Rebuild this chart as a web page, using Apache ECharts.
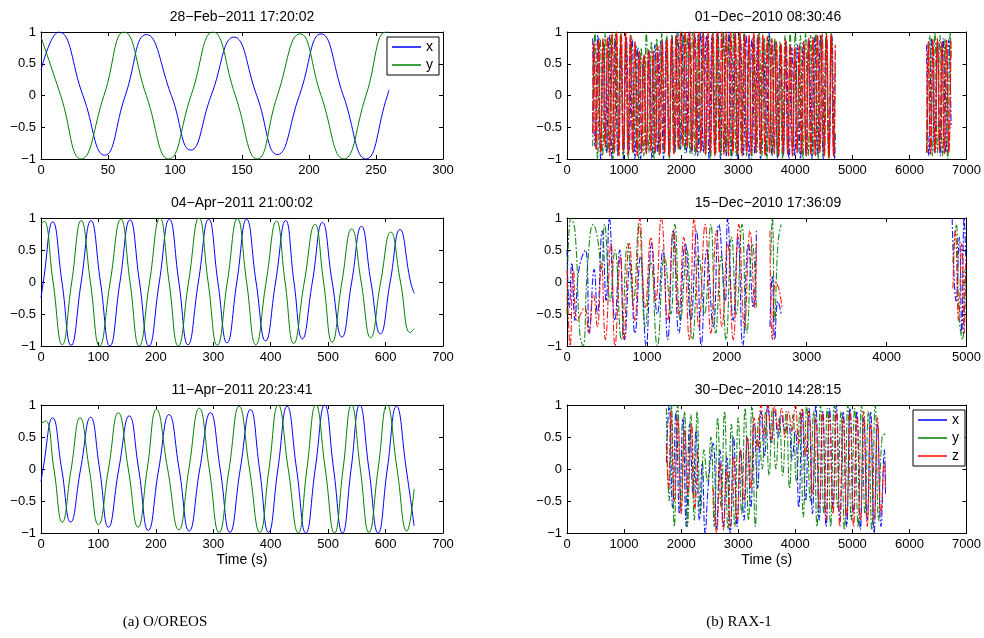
<!DOCTYPE html>
<html><head><meta charset="utf-8">
<script src="https://cdn.jsdelivr.net/npm/echarts@6/dist/echarts.min.js"></script>
<style>html,body{margin:0;padding:0;background:#fff}#c{width:984px;height:638px}</style>
</head><body><div id="c"></div>
<script>
// ---------------- data ----------------
const panelTitles = ['28\u2212Feb\u22122011 17:20:02','01\u2212Dec\u22122010 08:30:46','04\u2212Apr\u22122011 21:00:02','15\u2212Dec\u22122010 17:36:09','11\u2212Apr\u22122011 20:23:41','30\u2212Dec\u22122010 14:28:15'];
const captions = ['(a) O/OREOS','(b) RAX-1'];
const seriesNames = ['x','y','z'];
const yTicks = [-1, -0.5, 0, 0.5, 1];
const xAxisMax = [300, 7000, 700, 5000, 700, 7000];
const xAxisStep = [50, 1000, 100, 1000, 100, 1000];
const xAxisName = 'Time (s)';

// O/OREOS 28-Feb-2011 (time s, value)
const feb28X = [[0,0.40],[13.2,1.0],[31.3,0],[47.5,-0.94],[62.9,0],[78.6,0.96],[97.3,0],[111.7,-0.86],[127,0],[144,0.92],[161,0],[176.4,-0.93],[192.8,0],[209,0.97],[225.6,0],[242.5,-1.0],[258.5,0],[259.7,0.09]];
const feb28Y = [[0,0.92],[14.7,0],[30,-1],[47,0],[62,1],[78.6,0],[95.3,-1],[112,0],[128.4,1],[145,0],[161.4,-1],[176.4,0],[193.3,0.97],[209,0],[226,-1],[242.5,0],[257.5,1.0],[259.7,1.0]];
// O/OREOS 04-Apr-2011
const apr04X = [[0,-0.25],[4,0],[20.5,0.94],[36.5,0],[52.5,-0.99],[70,0],[87,0.96],[103.5,0],[120,-1],[137.5,0],[155,0.97],[171.5,0],[188,-1],[206,0],[223.5,0.98],[240,0],[256,-0.98],[274,0],[292,0.98],[308,0],[324,-0.95],[341,0],[358,0.98],[374.5,0],[391,-0.92],[408.5,0],[426,0.96],[440.5,0],[455,-0.89],[472.5,0],[490,0.93],[507,0],[524,-0.86],[541,0],[558,0.87],[574.5,0],[591,-0.81],[608,0],[625,0.82],[643.5,0],[650,-0.18]];
const apr04Y = [[0,0.9],[5,0.95],[21,0],[37,-0.98],[53.5,0],[70,0.96],[86,0],[102,-1],[120.5,0],[139,0.98],[155,0],[171,-1],[189,0],[207,1],[223,0],[239,-1],[257,0],[275,1],[291,0],[307,-0.99],[324.5,0],[342,0.99],[358,0],[374,-0.98],[392,0],[410,0.95],[425,0],[440,-0.96],[458.5,0],[477,0.9],[492,0],[507,-0.94],[524,0],[541,0.83],[557.5,0],[574,-0.87],[591.5,0],[609,0.78],[626,0],[643,-0.79],[650,-0.73]];
// O/OREOS 11-Apr-2011
const apr11X = [[0,-0.2],[3.5,0],[20.3,0.80],[36,0],[51.6,-0.83],[69,0],[86.4,0.81],[102,0],[117.4,-0.91],[135.5,0],[153.7,0.83],[170,0],[186.8,-0.96],[205,0],[223,0.85],[240.5,0],[258,-0.97],[276.5,0],[295,0.88],[312,0],[328.9,-0.99],[347,0],[364.8,0.93],[380.5,0],[396.2,-0.99],[412.5,0],[428.6,0.98],[445,0],[461.2,-1],[477.5,0],[494,1.0],[509.5,0],[525,-1],[540,0],[555,1.0],[571,0],[587,-1],[603,0],[619,0.98],[636,0],[649.7,-0.89]];
const apr11Y = [[0,0.71],[8,0.75],[22.5,0],[37,-0.83],[52.5,0],[68,0.80],[84,0],[100,-0.87],[117.5,0],[134.6,0.88],[152,0],[169,-0.91],[185,0],[201,0.93],[220.5,0],[240,-0.95],[257.5,0],[275.5,0.95],[293,0],[310,-0.99],[327.5,0],[345,0.98],[363,0],[381,-0.99],[397,0],[413,1.0],[430.5,0],[448,-1],[463,0],[478.5,1.0],[495,0],[511,-1],[526,0],[540.6,1.0],[556,0],[571,-0.99],[587,0],[602.7,1.0],[620,0],[637,-0.97],[649.7,-0.31]];

// RAX-1 01-Dec-2010
const dec01X = [[450,0.9],[490,-0.8],[540,0.95],[590,-1],[640,0.85],[690,-0.9],[740,0.95],[790,-1],[840,0.9],[890,-0.95],[940,0.8],[990,-1],[1040,0.92],[1090,-0.85],[1140,0.9],[1190,-1],[1240,0.75],[1290,-1],[1340,0.6],[1390,-0.9],[1440,0.7],[1490,-1],[1540,0.8],[1590,-0.9],[1640,0.85],[1690,-1],[1740,0.9],[1790,-0.95],[1840,0.95],[1890,-0.9],[1940,1],[1990,-0.85],[2040,0.95],[2090,-0.9],[2140,1],[2190,-0.92],[2240,0.95],[2290,-0.95],[2340,1],[2390,-0.9],[2440,0.95],[2490,-1],[2540,0.95],[2590,-0.92],[2640,1],[2690,-1],[2740,0.95],[2790,-0.95],[2840,1],[2890,-0.95],[2940,0.95],[2990,-1],[3040,0.92],[3090,-0.95],[3140,0.95],[3190,-1],[3240,0.9],[3290,-0.92],[3340,0.95],[3390,-1],[3440,0.9],[3490,-0.95],[3540,1],[3590,-0.95],[3640,0.85],[3690,-1],[3740,0.8],[3790,-0.95],[3840,0.85],[3890,-1],[3940,0.75],[3990,-0.95],[4040,0.8],[4090,-1],[4140,0.85],[4190,-0.95],[4240,0.9],[4290,-1],[4340,0.92],[4390,-0.95],[4440,0.95],[4490,-1],[4540,0.9],[4590,-0.95],[4640,0.95],[4690,-1],[4700,-0.6],[5500,null],[6300,0.8],[6340,-0.95],[6390,0.9],[6440,-0.9],[6490,0.85],[6540,-0.95],[6590,0.9],[6640,-0.9],[6690,0.88],[6730,-0.5]];
const dec01Y = [[450,-0.8],[490,1],[535,-1],[580,0.9],[625,-0.95],[670,1],[715,-0.9],[760,0.95],[805,-1],[850,1],[895,-0.92],[940,1],[985,-0.95],[1030,0.9],[1075,-1],[1120,0.95],[1165,-0.9],[1210,0.8],[1255,-1],[1300,0.75],[1345,-0.95],[1390,1],[1435,-0.9],[1480,0.85],[1525,-1],[1570,0.9],[1615,-0.95],[1660,1],[1705,-0.92],[1750,0.95],[1795,-1],[1840,0.95],[1885,-0.9],[1930,1],[1975,-0.85],[2020,1],[2065,-0.9],[2110,0.95],[2155,-0.92],[2200,1],[2245,-0.95],[2290,0.95],[2335,-0.9],[2380,1],[2425,-0.95],[2470,0.95],[2515,-1],[2560,1],[2605,-0.92],[2650,0.95],[2695,-0.95],[2740,1],[2785,-0.9],[2830,0.95],[2875,-1],[2920,1],[2965,-0.95],[3010,0.95],[3055,-0.9],[3100,1],[3145,-0.95],[3190,0.92],[3235,-1],[3280,0.95],[3325,-0.9],[3370,1],[3415,-0.95],[3460,0.9],[3505,-1],[3550,0.95],[3595,-0.92],[3640,0.9],[3685,-0.95],[3730,0.85],[3775,-1],[3820,0.95],[3865,-0.9],[3910,1],[3955,-0.95],[4000,1],[4045,-0.9],[4090,0.95],[4135,-1],[4180,1],[4225,-0.95],[4270,0.95],[4315,-0.92],[4360,1],[4405,-1],[4450,0.95],[4495,-0.95],[4540,1],[4585,-1],[4630,1],[4675,-0.95],[4700,0.5],[5500,null],[6310,-0.9],[6355,0.95],[6400,-0.95],[6445,1],[6490,-0.9],[6535,0.95],[6580,-0.95],[6625,0.9],[6670,-1],[6715,1],[6730,0.6]];
const dec01Z = [[450,-0.6],[470,0.85],[510,-0.85],[550,0.88],[590,-0.9],[630,0.9],[670,-0.82],[710,0.92],[750,-0.95],[790,0.98],[830,-0.9],[870,1],[910,-0.95],[950,0.97],[990,-0.88],[1030,0.99],[1070,-0.93],[1110,0.95],[1150,-0.9],[1190,0.85],[1230,-0.95],[1270,0.7],[1310,-0.9],[1350,0.65],[1390,-0.92],[1430,0.72],[1470,-0.88],[1510,0.7],[1550,-0.9],[1590,0.78],[1630,-0.93],[1670,0.85],[1710,-0.9],[1750,0.88],[1790,-0.95],[1830,0.9],[1870,-0.92],[1910,0.95],[1950,-0.85],[1990,1],[2030,-0.8],[2070,1],[2110,-0.82],[2150,1],[2190,-0.85],[2230,1],[2270,-0.9],[2310,1],[2350,-0.88],[2390,0.98],[2430,-0.92],[2470,1],[2510,-0.9],[2550,0.97],[2590,-0.95],[2630,1],[2670,-0.9],[2710,1],[2750,-0.93],[2790,1],[2830,-0.95],[2870,1],[2910,-0.9],[2950,0.98],[2990,-0.92],[3030,1],[3070,-0.95],[3110,0.97],[3150,-0.9],[3190,0.95],[3230,-0.93],[3270,0.98],[3310,-0.9],[3350,0.95],[3390,-0.92],[3430,0.96],[3470,-0.95],[3510,0.93],[3550,-0.9],[3590,0.9],[3630,-0.92],[3670,0.85],[3710,-0.95],[3750,0.82],[3790,-0.9],[3830,0.88],[3870,-0.93],[3910,0.8],[3950,-0.95],[3990,0.76],[4030,-0.9],[4070,0.78],[4110,-0.92],[4150,0.85],[4190,-0.95],[4230,0.9],[4270,-0.93],[4310,0.92],[4350,-0.95],[4390,0.95],[4430,-0.9],[4470,0.97],[4510,-0.95],[4550,0.95],[4590,-0.98],[4630,0.97],[4670,-0.95],[4700,0.8],[5500,null],[6300,-0.9],[6330,0.85],[6370,-0.92],[6410,0.88],[6450,-0.9],[6490,0.9],[6530,-0.88],[6570,0.85],[6610,-0.92],[6650,0.87],[6690,-0.9],[6725,0.85]];

// RAX-1 15-Dec-2010
const dec15X = [[0,0.5],[30,-0.4],[60,0.3],[100,-0.6],[150,0.2],[230,0.5],[280,-0.8],[340,0.2],[380,-0.5],[440,0.8],[490,-0.3],[530,1],[600,-0.6],[660,0.5],[720,-0.9],[790,0.3],[850,-0.8],[920,0.4],[990,-1],[1060,0.6],[1130,-0.5],[1200,0.5],[1260,-0.9],[1330,0.8],[1400,-0.8],[1480,0.6],[1550,-0.6],[1620,0.8],[1680,-1],[1750,0.5],[1830,-0.7],[1900,0.9],[1980,-0.3],[2010,1],[2080,-0.6],[2140,0.7],[2200,-1],[2270,0.6],[2330,-0.4],[2370,0.8],[2450,null],[2540,-0.7],[2570,0.1],[2600,-0.9],[2640,-0.3],[2680,-0.5],[3500,null],[4820,1],[4870,-0.3],[4910,0.7],[4940,-0.8],[4970,1],[4990,0.4]];
const dec15Y = [[0,-0.5],[50,1],[100,0.8],[160,-0.8],[200,-1],[260,0.3],[330,0.9],[380,0.7],[430,0.2],[470,0.9],[540,-0.3],[600,0.5],[680,-0.9],[760,0.6],[830,-0.3],[900,0.9],[980,-0.7],[1050,0.3],[1130,-1],[1220,0.4],[1300,-0.5],[1350,0.9],[1420,-0.6],[1500,0.5],[1570,-0.9],[1650,0.4],[1720,-0.5],[1800,0.9],[1860,-0.8],[1930,0.4],[1990,-0.9],[2060,0.7],[2120,-0.5],[2190,0.9],[2250,-0.8],[2320,0.6],[2370,-0.4],[2450,null],[2550,0.4],[2570,1],[2600,-0.6],[2640,0.6],[2680,0.9],[3500,null],[4830,0.3],[4870,0.9],[4910,-0.6],[4950,-0.9],[4980,0.2]];
const dec15Z = [[0,0.2],[40,-1],[80,0.2],[130,-0.6],[220,-0.4],[270,-0.8],[330,-0.2],[380,-0.7],[430,0.3],[480,-0.9],[550,0.6],[600,-1],[670,0.4],[710,-0.9],[780,0.6],[850,-0.6],[910,1],[980,-0.4],[1050,0.7],[1110,-0.3],[1180,1],[1260,-0.6],[1330,0.8],[1400,-0.5],[1460,0.7],[1530,-0.9],[1590,1],[1650,-0.7],[1730,0.9],[1800,-0.8],[1870,0.8],[1940,-0.7],[2010,0.6],[2080,-0.9],[2150,0.9],[2220,-0.7],[2290,0.8],[2350,-0.4],[2370,0.6],[2450,null],[2540,0.8],[2570,-0.9],[2610,0],[2650,-0.1],[2690,-0.4],[3500,null],[4830,-0.1],[4860,0.8],[4900,-0.6],[4940,0.6],[4970,-0.8],[4990,0.4]];

// RAX-1 30-Dec-2010
const dec30X = [[1740,0.1],[1790,1],[1850,-0.6],[1910,0.9],[1970,-0.7],[2030,0.8],[2090,-0.9],[2150,0.7],[2210,-0.4],[2260,0.6],[2320,-0.8],[2370,0.1],[2420,-1],[2480,-0.2],[2560,0.4],[2620,-0.95],[2680,0.3],[2740,-0.9],[2800,0.2],[2860,-1],[2920,0.5],[2980,-0.9],[3040,0.3],[3100,-0.8],[3160,0.5],[3220,-0.6],[3280,0.7],[3340,-0.3],[3400,0.9],[3460,0.2],[3520,1],[3580,0.4],[3640,0.9],[3700,0.5],[3760,0.85],[3820,0.6],[3880,0.7],[3940,0.15],[4000,0.6],[4060,-0.6],[4120,0.9],[4180,-0.5],[4240,0.95],[4300,-0.7],[4360,1],[4420,-0.8],[4480,0.9],[4540,-0.9],[4600,0.95],[4660,-0.6],[4720,1],[4780,-0.8],[4840,0.9],[4900,-0.9],[4960,0.95],[5020,-0.7],[5080,0.9],[5140,-0.95],[5200,0.8],[5260,-0.8],[5320,0.9],[5380,-1],[5440,0.7],[5500,-0.9],[5560,0.3],[5580,-0.4]];
const dec30Y = [[1740,0.95],[1790,-0.5],[1830,1],[1880,-0.9],[1940,1],[2000,-0.6],[2060,0.9],[2110,-0.9],[2170,0.85],[2230,-0.8],[2280,0.9],[2340,-0.7],[2400,0.3],[2460,-0.2],[2520,0.5],[2580,-0.9],[2640,0.8],[2700,-0.6],[2760,0.9],[2820,-0.95],[2880,0.7],[2940,-0.9],[3000,0.8],[3060,-0.7],[3120,0.95],[3180,-0.8],[3240,1],[3300,-0.9],[3360,0.8],[3420,0],[3480,0.9],[3540,-0.1],[3600,0.95],[3660,0],[3720,0.8],[3780,-0.1],[3840,0.9],[3900,-0.3],[3960,0.85],[4020,-0.2],[4080,0.9],[4140,-0.75],[4200,1],[4260,-0.5],[4320,0.9],[4380,-0.9],[4440,1],[4500,-0.7],[4560,0.95],[4620,-0.9],[4680,1],[4740,-0.6],[4800,0.9],[4860,-0.95],[4920,1],[4980,-0.8],[5040,0.95],[5100,-0.9],[5160,1],[5220,-0.7],[5280,0.9],[5340,-0.95],[5400,1],[5460,-0.8],[5520,0.5],[5580,0.55]];
const dec30Z = [[1740,0.4],[1780,-0.3],[1820,0.9],[1880,-0.5],[1940,0.8],[2000,-0.7],[2060,0.6],[2120,-0.4],[2180,0.7],[2240,-0.6],[2290,0.3],[2400,null],[2560,-0.3],[2620,-1],[2680,0.1],[2740,-0.95],[2800,0],[2860,-0.9],[2920,0.2],[2980,-0.8],[3040,0.3],[3100,-0.5],[3160,0.5],[3220,-0.3],[3280,0.8],[3340,0.3],[3400,1],[3460,0.5],[3520,1],[3580,0.45],[3640,1],[3700,0.6],[3760,0.95],[3820,0.5],[3880,0.9],[3940,0.6],[4000,1],[4060,0.4],[4120,0.95],[4180,0.2],[4240,0.9],[4300,-0.4],[4360,0.8],[4420,-0.6],[4480,0.9],[4540,-0.8],[4600,0.85],[4660,-0.7],[4720,0.9],[4780,-0.9],[4840,0.8],[4900,-0.75],[4960,0.9],[5020,-0.9],[5080,0.8],[5140,-0.8],[5200,0.9],[5260,-0.9],[5320,0.7],[5380,-0.8],[5440,0.8],[5500,-0.7],[5560,0.1],[5580,-0.3]];

// ---------------- chart ----------------
const COLORS = {x:'#0000ff', y:'#008000', z:'#ff0000'};
const FONT = 'Liberation Sans, Arial, Helvetica, sans-serif';
const grids = [
  {left:41, top:32, width:402, height:127},
  {left:567, top:32, width:402, height:127},
  {left:41, top:218, width:402, height:128},
  {left:567, top:218, width:402, height:128},
  {left:41, top:405, width:402, height:128},
  {left:567, top:405, width:402, height:128}
];
const titleTops = [10,10,196,196,383,383];
const panelData = [
  [feb28X, feb28Y],
  [dec01X, dec01Y, dec01Z],
  [apr04X, apr04Y],
  [dec15X, dec15Y, dec15Z],
  [apr11X, apr11Y],
  [dec30X, dec30Y, dec30Z]
];
const minus = v => (v < 0 ? '\u2212' + Math.abs(v) : String(v));
const xAxes = [], yAxes = [], series = [], titles = [];
grids.forEach((g, i) => {
  const lineCol = {color:'#000', width:1};
  const tick = {show:true, inside:true, length:4, lineStyle:{color:'#000', width:1}};
  const base = {type:'value', gridIndex:i, min:0, max:xAxisMax[i], interval:xAxisStep[i],
    splitLine:{show:false}, axisLine:{show:true, onZero:false, lineStyle:lineCol}, axisTick:tick};
  xAxes.push(Object.assign({}, base, {position:'bottom',
    axisLabel:{color:'#000', fontSize:13, fontFamily:FONT, margin:5, formatter:minus},
    name: i >= 4 ? xAxisName : '', nameLocation:'middle', nameGap:20,
    nameTextStyle:{color:'#000', fontSize:14, fontFamily:FONT}}));
  xAxes.push(Object.assign({}, base, {position:'top', axisLabel:{show:false}}));
  const ybase = {type:'value', gridIndex:i, min:yTicks[0], max:yTicks[yTicks.length-1], interval:0.5,
    splitLine:{show:false}, axisLine:{show:true, onZero:false, lineStyle:lineCol}, axisTick:tick};
  yAxes.push(Object.assign({}, ybase, {position:'left',
    axisLabel:{color:'#000', fontSize:13, fontFamily:FONT, margin:5, formatter:minus}}));
  yAxes.push(Object.assign({}, ybase, {position:'right', axisLabel:{show:false}}));
  const isRax = (i % 2 === 1);
  panelData[i].forEach((d, k) => {
    const nm = seriesNames[k];
    let ls = {color:COLORS[nm], width:1};
    if (isRax) {
      if (i === 1 && nm === 'z') ls = {color:COLORS[nm], width:1.3, type:[10,1.5], opacity:0.95};
      else ls = {color:COLORS[nm], width:1.1, type:[7,2,2,2], opacity:0.9};
    }
    series.push({
      type:'line', name:nm, xAxisIndex:2*i, yAxisIndex:2*i, data:d,
      showSymbol:false, symbol:'none', smooth:0.5, connectNulls:false,
      color:COLORS[nm], silent:true, z: 2 + k, lineStyle: ls
    });
  });
  titles.push({text:panelTitles[i], left:g.left + g.width/2, top:titleTops[i], textAlign:'center', padding:0,
    textStyle:{color:'#000', fontSize:14, fontWeight:'normal', fontFamily:FONT}});
});
titles.push({text:captions[0], left:165, top:615, textAlign:'center', padding:0,
  textStyle:{color:'#000', fontSize:15, fontWeight:'normal', fontFamily:'Liberation Serif, Times New Roman, serif'}});
titles.push({text:captions[1], left:739, top:615, textAlign:'center', padding:0,
  textStyle:{color:'#000', fontSize:15, fontWeight:'normal', fontFamily:'Liberation Serif, Times New Roman, serif'}});

const legendBase = {orient:'vertical', icon:'rect', itemWidth:29, itemHeight:1.5, itemGap:4,
  padding:[3,6,3,5], borderColor:'#000', borderWidth:1, backgroundColor:'#fff', selectedMode:false,
  textStyle:{color:'#000', fontSize:14, fontFamily:FONT, lineHeight:14}};
const chart = echarts.init(document.getElementById('c'), null, {renderer:'canvas'});
chart.setOption({
  animation:false,
  backgroundColor:'#fff',
  title:titles,
  grid:grids,
  xAxis:xAxes,
  yAxis:yAxes,
  legend:[
    Object.assign({}, legendBase, {data:seriesNames.slice(0,2), left:387, top:37}),
    Object.assign({}, legendBase, {data:seriesNames.slice(0,3), left:913, top:410})
  ],
  series:series
});
</script></body></html>
